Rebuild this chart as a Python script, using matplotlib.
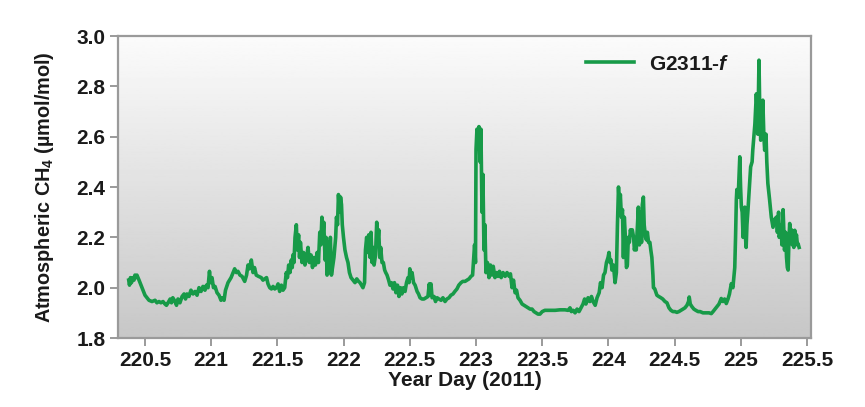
import numpy as np
import matplotlib
matplotlib.use("Agg")
import matplotlib.pyplot as plt

plt.rcParams['font.family'] = ['Liberation Sans', 'DejaVu Sans']
plt.rcParams['mathtext.fontset'] = 'custom'
plt.rcParams['mathtext.rm'] = 'Liberation Sans:bold'
plt.rcParams['mathtext.it'] = 'Liberation Sans:bold:italic'

# year day (2011) and CH4 readings
day = [
    220.377, 220.383, 220.390, 220.398, 220.409, 220.417, 220.424, 220.432, 220.439, 220.455,
    220.470, 220.485, 220.500, 220.515, 220.530, 220.553, 220.576, 220.590, 220.606, 220.620,
    220.636, 220.651, 220.662, 220.674, 220.690, 220.700, 220.710, 220.727, 220.738, 220.749,
    220.764, 220.780, 220.795, 220.806, 220.817, 220.832, 220.847, 220.863, 220.878, 220.893,
    220.908, 220.923, 220.938, 220.953, 220.964, 220.976, 220.987, 220.995, 221.006, 221.017,
    221.029, 221.044, 221.059, 221.074, 221.085, 221.097, 221.108, 221.127, 221.150, 221.177,
    221.190, 221.202, 221.217, 221.233, 221.253, 221.267, 221.278, 221.289, 221.303, 221.316,
    221.327, 221.340, 221.357, 221.378, 221.391, 221.404, 221.418, 221.429, 221.442, 221.455,
    221.467, 221.480, 221.493, 221.505, 221.517, 221.530, 221.542, 221.555, 221.567, 221.576,
    221.585, 221.595, 221.605, 221.612, 221.617, 221.625, 221.633, 221.643, 221.650, 221.660,
    221.667, 221.674, 221.686, 221.697, 221.708, 221.720, 221.731, 221.742, 221.754, 221.765,
    221.776, 221.787, 221.800, 221.810, 221.820, 221.828, 221.836, 221.843, 221.850, 221.860,
    221.867, 221.875, 221.882, 221.890, 221.900, 221.908, 221.916, 221.927, 221.940, 221.946,
    221.954, 221.961, 221.969, 221.977, 221.984, 221.990, 221.999, 222.010, 222.022, 222.033,
    222.044, 222.056, 222.071, 222.086, 222.099, 222.113, 222.124, 222.135, 222.146, 222.158,
    222.165, 222.174, 222.181, 222.190, 222.200, 222.207, 222.215, 222.222, 222.230, 222.241,
    222.250, 222.258, 222.265, 222.273, 222.280, 222.290, 222.300, 222.310, 222.318, 222.328,
    222.340, 222.350, 222.361, 222.373, 222.384, 222.395, 222.407, 222.418, 222.430, 222.440,
    222.452, 222.464, 222.475, 222.486, 222.494, 222.500, 222.509, 222.517, 222.528, 222.540,
    222.555, 222.566, 222.577, 222.592, 222.607, 222.622, 222.637, 222.647, 222.655, 222.660,
    222.668, 222.683, 222.694, 222.706, 222.720, 222.736, 222.750, 222.766, 222.780, 222.796,
    222.810, 222.826, 222.840, 222.856, 222.870, 222.887, 222.900, 222.917, 222.932, 222.947,
    222.962, 222.974, 222.980, 222.989, 222.996, 223.000, 223.007, 223.015, 223.022, 223.030,
    223.037, 223.045, 223.052, 223.060, 223.067, 223.075, 223.086, 223.098, 223.109, 223.120,
    223.130, 223.143, 223.154, 223.166, 223.177, 223.190, 223.204, 223.220, 223.234, 223.250,
    223.260, 223.272, 223.283, 223.295, 223.306, 223.317, 223.332, 223.348, 223.363, 223.378,
    223.393, 223.408, 223.423, 223.438, 223.453, 223.468, 223.483, 223.500, 223.520, 223.560,
    223.597, 223.634, 223.672, 223.695, 223.710, 223.720, 223.733, 223.748, 223.763, 223.778,
    223.793, 223.808, 223.820, 223.830, 223.846, 223.860, 223.872, 223.884, 223.900, 223.914,
    223.930, 223.940, 223.952, 223.963, 223.974, 223.985, 223.997, 224.004, 224.012, 224.020,
    224.026, 224.038, 224.050, 224.060, 224.068, 224.076, 224.083, 224.090, 224.098, 224.106,
    224.113, 224.120, 224.128, 224.136, 224.143, 224.150, 224.158, 224.166, 224.173, 224.180,
    224.190, 224.196, 224.204, 224.210, 224.219, 224.226, 224.234, 224.240, 224.250, 224.256,
    224.264, 224.270, 224.280, 224.287, 224.294, 224.303, 224.313, 224.320, 224.328, 224.336,
    224.340, 224.350, 224.366, 224.380, 224.396, 224.410, 224.427, 224.442, 224.457, 224.472,
    224.487, 224.502, 224.517, 224.532, 224.548, 224.563, 224.578, 224.593, 224.605, 224.610,
    224.618, 224.630, 224.645, 224.660, 224.677, 224.692, 224.714, 224.737, 224.760, 224.777,
    224.790, 224.805, 224.820, 224.835, 224.852, 224.865, 224.877, 224.890, 224.903, 224.914,
    224.928, 224.940, 224.954, 224.960, 224.966, 224.970, 224.980, 224.987, 224.992, 224.998,
    225.004, 225.010, 225.017, 225.022, 225.030, 225.035, 225.040, 225.046, 225.054, 225.065,
    225.074, 225.085, 225.090, 225.098, 225.106, 225.117, 225.124, 225.128, 225.137, 225.143,
    225.150, 225.157, 225.166, 225.174, 225.180, 225.190, 225.196, 225.204, 225.217, 225.230,
    225.243, 225.254, 225.268, 225.276, 225.285, 225.290, 225.304, 225.310, 225.319, 225.326,
    225.330, 225.338, 225.345, 225.351, 225.357, 225.364, 225.369, 225.375, 225.383, 225.389,
    225.394, 225.400, 225.407, 225.413, 225.420, 225.427, 225.432, 225.440,
]
ch4 = [
    2.03, 2.01, 2.04, 2.02, 2.04, 2.03, 2.05, 2.04, 2.05, 2.03,
    2.01, 1.99, 1.97, 1.96, 1.95, 1.945, 1.95, 1.94, 1.945, 1.94,
    1.945, 1.935, 1.93, 1.94, 1.955, 1.94, 1.96, 1.945, 1.93, 1.955,
    1.94, 1.965, 1.975, 1.955, 1.975, 1.965, 1.99, 1.975, 1.985, 1.97,
    2.0, 1.985, 2.005, 1.99, 2.01, 2.0, 2.065, 2.02, 2.04, 2.0,
    2.005, 1.98, 1.97, 1.95, 1.96, 1.95, 1.99, 2.02, 2.04, 2.075,
    2.06, 2.065, 2.05, 2.045, 2.025, 2.05, 2.09, 2.075, 2.11, 2.06,
    2.08, 2.05, 2.045, 2.04, 2.03, 2.035, 2.04, 2.015, 2.0, 1.995,
    2.005, 1.995, 2.0, 2.015, 1.985, 2.01, 1.99, 2.0, 2.06, 2.04,
    2.09, 2.06, 2.11, 2.08, 2.13, 2.1, 2.2, 2.25, 2.15, 2.21,
    2.12, 2.18, 2.1, 2.14, 2.09, 2.12, 2.16, 2.1, 2.13, 2.08,
    2.12, 2.09, 2.14, 2.1, 2.22, 2.17, 2.28, 2.2, 2.26, 2.11,
    2.2, 2.05, 2.18, 2.06, 2.2, 2.05, 2.08, 2.12, 2.2, 2.28,
    2.25, 2.37, 2.3, 2.36, 2.33, 2.25, 2.2, 2.15, 2.12, 2.1,
    2.06, 2.04, 2.03, 2.02, 2.035, 2.025, 2.02, 2.01, 2.0, 2.02,
    2.15, 2.2, 2.14, 2.21, 2.12, 2.22, 2.1, 2.16, 2.09, 2.13,
    2.26, 2.18, 2.23, 2.12, 2.16, 2.1, 2.1, 2.07, 2.06, 2.05,
    2.03, 2.01, 2.02, 1.995, 2.02, 1.98, 2.01, 1.965, 2.0, 1.975,
    2.0, 1.985, 2.02, 2.04, 2.02, 2.075, 2.04, 2.06, 2.02, 2.01,
    1.985, 1.975, 1.96, 1.955, 1.955, 1.96, 1.965, 2.015, 1.97, 2.015,
    1.96, 1.965, 1.945, 1.96, 1.955, 1.95, 1.96, 1.945, 1.955, 1.96,
    1.97, 1.975, 1.985, 1.995, 2.01, 2.02, 2.025, 2.025, 2.03, 2.035,
    2.045, 2.05, 2.1, 2.17, 2.1, 2.55, 2.63, 2.55, 2.64, 2.5,
    2.63, 2.3, 2.45, 2.15, 2.25, 2.06, 2.1, 2.04, 2.09, 2.05,
    2.085, 2.04, 2.06, 2.045, 2.065, 2.04, 2.06, 2.045, 2.06, 2.045,
    2.055, 2.0, 2.03, 1.98, 1.99, 1.96, 1.95, 1.935, 1.93, 1.925,
    1.92, 1.915, 1.915, 1.905, 1.9, 1.895, 1.895, 1.905, 1.91, 1.91,
    1.91, 1.912, 1.912, 1.91, 1.92, 1.905, 1.91, 1.9, 1.915, 1.905,
    1.92, 1.935, 1.955, 1.935, 1.96, 1.945, 1.965, 1.945, 1.93, 1.96,
    1.98, 2.02, 2.0, 2.05, 2.06, 2.1, 2.12, 2.14, 2.1, 2.11,
    2.07, 2.09, 2.02, 2.06, 2.25, 2.4, 2.32, 2.37, 2.28, 2.31,
    2.12, 2.28, 2.2, 2.08, 2.09, 2.2, 2.18, 2.23, 2.21, 2.23,
    2.2, 2.15, 2.17, 2.15, 2.25, 2.32, 2.17, 2.3, 2.18, 2.33,
    2.36, 2.25, 2.2, 2.19, 2.22, 2.18, 2.18, 2.15, 2.12, 2.05,
    2.0, 1.995, 1.97, 1.965, 1.96, 1.955, 1.945, 1.94, 1.92, 1.91,
    1.905, 1.905, 1.902, 1.905, 1.91, 1.915, 1.92, 1.93, 1.945, 1.963,
    1.935, 1.925, 1.915, 1.91, 1.905, 1.905, 1.9, 1.9, 1.9, 1.897,
    1.905, 1.915, 1.925, 1.935, 1.957, 1.945, 1.955, 1.937, 1.955, 1.975,
    2.016, 2.0, 2.08, 2.2, 2.35, 2.39, 2.36, 2.46, 2.52, 2.4,
    2.32, 2.3, 2.2, 2.28, 2.32, 2.2, 2.16, 2.25, 2.31, 2.4,
    2.48, 2.5, 2.546, 2.6, 2.65, 2.77, 2.7, 2.61, 2.904, 2.7,
    2.586, 2.65, 2.745, 2.6, 2.546, 2.61, 2.5, 2.414, 2.35, 2.28,
    2.24, 2.27, 2.28, 2.22, 2.3, 2.2, 2.25, 2.17, 2.31, 2.2,
    2.149, 2.22, 2.12, 2.08, 2.07, 2.2, 2.255, 2.18, 2.23, 2.17,
    2.2, 2.16, 2.228, 2.19, 2.21, 2.17, 2.175, 2.16,
]

xticks = [220.5, 221, 221.5, 222, 222.5, 223, 223.5, 224, 224.5, 225, 225.5]
xtick_labels = ['220.5', '221', '221.5', '222', '222.5', '223', '223.5', '224', '224.5', '225', '225.5']
yticks = [1.8, 2.0, 2.2, 2.4, 2.6, 2.8, 3.0]

fig = plt.figure(figsize=(8.65, 4.07), dpi=100)
ax = fig.add_axes([0.1364, 0.1695, 0.8012, 0.742])

xlim = (220.296, 225.53)
ylim = (1.8, 3.0)

# grey-to-white background gradient
grad = np.linspace(0.78, 0.985, 256).reshape(-1, 1)
ax.imshow(grad, cmap='gray', vmin=0, vmax=1, aspect='auto', origin='lower',
          extent=[xlim[0], xlim[1], ylim[0], ylim[1]], zorder=0)

ax.plot(day, ch4, color='#179a48', lw=2.6, label=r'G2311-$\it{f}$', zorder=3)

ax.set_xlim(*xlim)
ax.set_ylim(*ylim)
ax.set_xticks(xticks)
ax.set_xticklabels(xtick_labels)
ax.set_yticks(yticks)
ax.set_yticklabels([f'{v:.1f}' for v in yticks])

for s in ax.spines.values():
    s.set_color('#9a9a9a')
    s.set_linewidth(1.6)
ax.tick_params(direction='out', length=6, width=1.4, color='#9a9a9a', pad=3,
               labelsize=15, labelcolor='#1a1a1a')
for lab in ax.get_xticklabels() + ax.get_yticklabels():
    lab.set_fontweight('bold')

ax.set_xlabel('Year Day (2011)', fontsize=15, fontweight='bold', color='#1a1a1a', labelpad=1)
ax.set_ylabel(r'Atmospheric CH$_4$ (µmol/mol)', fontsize=14.3, fontweight='bold',
              color='#1a1a1a', labelpad=15)

leg = ax.legend(loc='center left', bbox_to_anchor=(0.664, 0.907), frameon=False,
                handlelength=2.3, handletextpad=0.7, borderaxespad=0,
                prop={'weight': 'bold', 'size': 15})
for t in leg.get_texts():
    t.set_color('#1a1a1a')

fig.savefig('out.png', dpi=100)
